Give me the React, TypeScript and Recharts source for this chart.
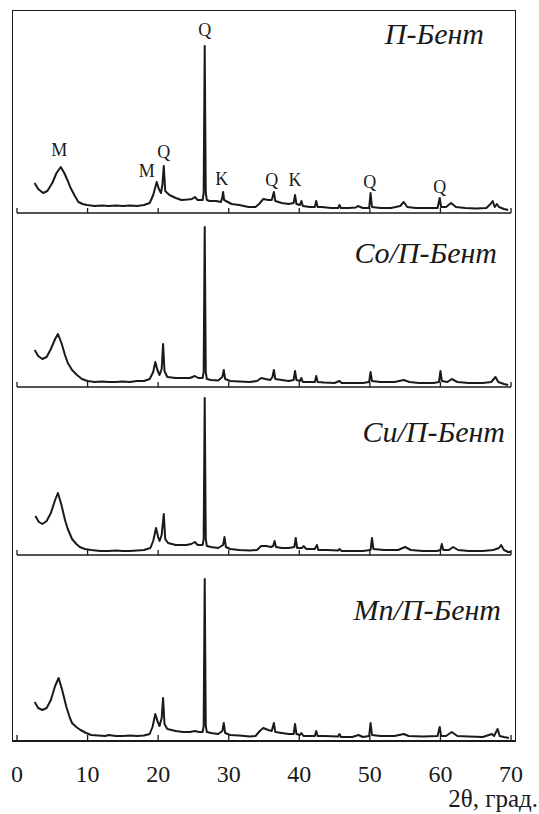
import React from 'react';
import { LineChart, Line, XAxis, YAxis, ReferenceDot } from 'recharts';

// 2θ (deg) / intensity (arb. units)
const bent: [number, number][] = [
  [2.5, 30], [3.0, 24], [3.7, 20], [4.3, 22], [5.0, 30], [5.6, 40], [6.2, 46], [6.7, 40], [7.2, 32], [7.6, 25],
  [8.2, 17], [8.7, 11], [9.3, 9], [9.9, 8], [11, 7], [12, 7.5], [13, 7], [14, 7.5], [15, 7], [16, 7.5], [17, 7],
  [18, 8], [18.8, 10], [19.3, 18], [19.8, 31], [20.1, 24], [20.4, 20], [20.6, 28], [20.8, 47], [21.0, 22],
  [21.6, 18], [22.5, 15], [23.3, 13], [24.2, 13.5], [24.8, 14], [25.2, 16], [25.6, 13], [26.3, 13], [26.45, 20],
  [26.6, 167], [26.75, 20], [26.9, 13], [27.3, 12], [28.2, 12], [28.9, 11], [29.1, 16], [29.2, 21], [29.35, 13],
  [30.4, 9], [31.5, 8], [32.8, 6], [33.8, 6], [34.3, 9], [34.9, 14], [35.6, 13], [36.1, 13], [36.4, 21], [36.6, 12],
  [37.5, 10], [38.5, 9], [39.2, 10], [39.4, 18], [39.6, 9], [40.1, 8], [40.3, 12], [40.5, 7], [41.5, 6], [42.2, 6],
  [42.4, 12], [42.6, 6], [43.2, 6], [44.5, 5], [45.5, 5], [45.7, 8], [45.9, 5], [47, 5], [48, 5.5], [48.3, 7],
  [49, 5], [49.9, 5], [50.1, 20], [50.3, 6], [51.5, 5], [53, 5], [54.3, 7], [54.8, 11], [55.3, 6], [56.5, 5],
  [58, 5], [59.6, 5], [59.9, 15], [60.1, 6], [60.8, 6], [61.5, 10], [62.2, 6], [63.5, 5], [65, 4.5], [66.5, 5],
  [67.1, 9], [67.4, 12], [67.7, 6], [68, 9], [68.3, 6], [69, 4], [69.6, 3],
];

const coBent: [number, number][] = [
  [2.5, 37], [3.0, 31], [3.6, 28], [4.2, 30], [4.8, 38], [5.4, 48], [5.8, 53], [6.3, 44], [6.8, 32], [7.2, 24],
  [7.8, 17], [8.5, 12], [9.2, 8], [10, 6], [11, 5], [12, 5.5], [13, 5], [14, 5], [15, 5.5], [16, 5], [17, 6],
  [18, 6], [18.8, 8], [19.3, 15], [19.6, 25], [19.9, 17], [20.2, 12], [20.5, 18], [20.7, 43], [20.9, 16],
  [21.3, 10], [22.5, 9], [23.5, 9], [24.5, 9], [25.2, 11], [25.7, 9], [26.3, 9], [26.45, 15], [26.6, 160],
  [26.75, 15], [26.9, 8], [27.5, 7], [28.5, 6.5], [29.1, 10], [29.3, 17], [29.5, 8], [30.2, 6], [31.5, 5.5],
  [33, 5], [34, 6], [34.6, 9], [35.2, 8], [35.9, 7], [36.2, 10], [36.4, 17], [36.6, 8], [37.5, 7], [38.5, 6],
  [39.2, 7], [39.4, 16], [39.6, 7], [40.1, 6], [40.3, 9], [40.5, 5], [41.5, 5], [42.2, 5], [42.4, 11], [42.6, 5],
  [43.5, 4.5], [45, 4], [45.7, 6], [46, 4], [47.5, 4], [49, 4], [49.9, 5], [50.1, 15], [50.3, 6], [51.5, 5],
  [53.5, 5], [54.8, 7], [55.6, 5], [57, 4], [59, 4], [59.8, 5], [60, 16], [60.2, 6], [61, 5], [61.6, 8],
  [62.4, 5], [64, 4], [66, 4], [67.2, 5], [67.8, 10], [68.2, 5], [69, 3], [69.6, 2],
];

const cuBent: [number, number][] = [
  [2.6, 39], [3.1, 33], [3.6, 31], [4.2, 34], [4.8, 42], [5.4, 55], [5.8, 62], [6.3, 50], [6.8, 35], [7.2, 26],
  [7.8, 16], [8.4, 11], [8.9, 8], [9.6, 6], [10.5, 5], [11.8, 4], [13, 4], [14, 4.5], [15, 4], [16, 4], [17, 4.5],
  [18, 5], [18.9, 7], [19.3, 14], [19.7, 27], [20.0, 18], [20.2, 14], [20.5, 20], [20.8, 41], [21.0, 16],
  [21.4, 12], [22.5, 10], [24, 10], [24.7, 11], [25.2, 13], [25.6, 10], [26.3, 10], [26.45, 16], [26.6, 157],
  [26.75, 16], [26.9, 9], [27.5, 8], [28.5, 7], [29.2, 10], [29.4, 18], [29.6, 8], [30.2, 6], [31.5, 5],
  [33, 4.5], [34, 5], [34.6, 9], [35.3, 9], [36, 8], [36.3, 9], [36.5, 14], [36.7, 8], [37.5, 7], [38.5, 7],
  [39.3, 8], [39.5, 17], [39.7, 7], [40.4, 7], [40.6, 9], [41, 6], [42.2, 6], [42.5, 10], [42.7, 5], [44, 5],
  [45.5, 4.5], [45.7, 6], [46, 4], [47.5, 4], [49, 4], [50.1, 5], [50.3, 17], [50.5, 6], [52, 5], [54, 5],
  [55, 8], [55.8, 5], [57.5, 4], [59.5, 4], [60, 5], [60.2, 11], [60.4, 5], [61.2, 5], [61.8, 8], [62.5, 5],
  [64, 4], [66, 4], [67.5, 5], [68.3, 7], [68.6, 10], [69, 5], [69.6, 3], [70, 3],
];

const mnBent: [number, number][] = [
  [2.5, 38], [3.0, 32], [3.6, 30], [4.2, 32], [4.8, 40], [5.4, 54], [5.9, 62], [6.4, 50], [7.0, 33], [7.5, 22],
  [7.8, 17], [8.4, 13], [9, 10], [9.8, 7], [10.5, 5], [11.5, 4.5], [12.5, 4], [13, 5], [14, 4], [15, 4],
  [16, 4.5], [17, 4], [18, 4.5], [18.8, 6], [19.2, 13], [19.6, 26], [19.9, 19], [20.2, 14], [20.5, 22],
  [20.7, 42], [20.9, 16], [21.3, 11], [22.5, 9], [23.5, 8], [24.5, 8], [25.2, 9], [25.8, 8], [26.3, 8],
  [26.45, 14], [26.6, 161], [26.75, 14], [26.9, 8], [27.5, 7], [28.5, 6], [29.1, 9], [29.3, 17], [29.5, 7],
  [30.2, 5], [31.5, 4.5], [33, 3.5], [33.8, 4], [34.4, 9], [34.9, 12], [35.6, 10], [36.1, 9], [36.4, 17],
  [36.6, 8], [37.5, 7], [38.5, 6], [39.2, 6], [39.4, 16], [39.6, 6], [40.1, 5], [40.3, 7], [40.6, 4], [41.5, 4],
  [42.2, 4], [42.4, 9], [42.6, 4], [43.5, 4], [45.5, 3.5], [45.7, 6], [45.9, 3], [47.5, 3], [48.4, 5], [49, 3],
  [49.9, 4], [50.1, 17], [50.3, 5], [51.5, 4], [53.5, 4], [54.8, 6], [55.5, 4], [57.5, 3.5], [59.6, 4],
  [59.9, 13], [60.1, 4], [60.8, 4], [61.6, 8], [62.4, 4], [64, 3.5], [66, 3], [67.3, 6], [67.6, 4], [68.1, 11],
  [68.4, 4], [69, 3], [69.7, 2],
];

const titles = ['П-Бент', 'Co/П-Бент', 'Cu/П-Бент', 'Mn/П-Бент'];
const xTicks = [0, 10, 20, 30, 40, 50, 60, 70];

// phase labels over the first pattern: M - montmorillonite, Q - quartz, K - kaolinite
const phaseNames = ['M', 'M', 'Q', 'Q', 'K', 'Q', 'K', 'Q', 'Q'];
const phaseAt = [6.0, 18.4, 20.8, 26.6, 29.0, 36.1, 39.4, 50.0, 59.9];
const phaseH = [63, 42, 61, 183, 34, 33, 33, 31, 26];

const series = [bent, coBent, cuBent, mnBent];

// layout (page px)
const panelTop = [11, 213, 387, 555];
const panelAxis = [213, 387, 555, 740];
const titleRight = [484, 497, 505, 501];
const titleBase = [44, 263, 442, 620];

const FONT = "'Liberation Serif', 'Times New Roman', Times, serif";
const INK = '#1a1a1a';

function Tick(props: any) {
  const { x, y, payload, showLabel } = props;
  return (
    <g>
      <line x1={x} x2={x} y1={y} y2={y - 5} stroke={INK} strokeWidth={1.3} />
      {showLabel && (
        <text x={x} y={y + 42} textAnchor="middle" style={{ fontFamily: FONT, fontSize: 24 }} fill={INK}>
          {payload.value}
        </text>
      )}
    </g>
  );
}

export default function App() {
  return (
    <div style={{ position: 'absolute', left: 0, top: 0, width: 539, height: 814, background: '#fff', fontFamily: FONT }}>
      <div
        style={{
          position: 'absolute', left: 12, top: 10, width: 504, height: 732, boxSizing: 'border-box',
          borderLeft: `1.5px solid ${INK}`, borderRight: `1.5px solid ${INK}`,
          borderTop: `1.5px solid ${INK}`, borderBottom: `2.5px solid ${INK}`,
        }}
      />
      {series.map((pts, i) => {
        const last = i === series.length - 1;
        const h = panelAxis[i] - panelTop[i];
        const axisH = last ? 70 : 8;
        const data = pts.map(([t, v]) => ({ t, v }));
        return (
          <div key={i} style={{ position: 'absolute', left: 12, top: panelTop[i] }}>
            <LineChart width={527} height={h + axisH} data={data} margin={{ top: 0, right: 28, bottom: 0, left: 5 }}>
              <XAxis
                type="number"
                dataKey="t"
                domain={[0, 70]}
                ticks={xTicks}
                interval={0}
                height={axisH}
                tickSize={0}
                tickMargin={0}
                tickLine={false}
                axisLine={last ? false : { stroke: INK, strokeWidth: 1.5 }}
                tick={<Tick showLabel={last} />}
              />
              <YAxis hide domain={[0, h]} allowDataOverflow />
              <Line
                type="linear"
                dataKey="v"
                stroke={INK}
                strokeWidth={2}
                strokeLinejoin="round"
                dot={false}
                isAnimationActive={false}
              />
              {i === 0 &&
                phaseNames.map((n, k) => (
                  <ReferenceDot
                    key={k}
                    x={phaseAt[k]}
                    y={phaseH[k]}
                    r={1}
                    fill="none"
                    stroke="none"
                    label={{ value: n, position: 'center', fill: INK, fontSize: 18, style: { fontFamily: FONT } }}
                  />
                ))}
            </LineChart>
          </div>
        );
      })}
      <svg width={539} height={814} style={{ position: 'absolute', left: 0, top: 0, pointerEvents: 'none' }}>
        {titles.map((t, i) => (
          <text
            key={t}
            x={titleRight[i]}
            y={titleBase[i]}
            textAnchor="end"
            style={{ fontFamily: FONT, fontStyle: 'italic', fontSize: 30 }}
            fill={INK}
          >
            {t}
          </text>
        ))}
        <text x={538} y={807} textAnchor="end" style={{ fontFamily: FONT, fontSize: 25 }} fill={INK}>
          2θ, град.
        </text>
      </svg>
    </div>
  );
}
